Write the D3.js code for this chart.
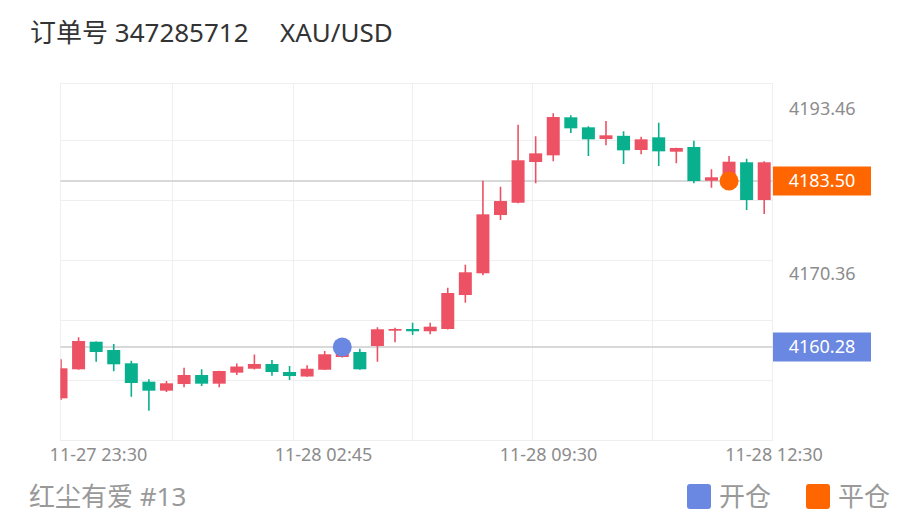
<!DOCTYPE html>
<html><head><meta charset="utf-8">
<script src="https://cdn.jsdelivr.net/npm/d3@7"></script>
<style>
body{margin:0;background:#fff}
svg{display:block}
text{font-family:"Noto Sans","Noto Sans CJK SC",sans-serif}
</style>
</head><body>
<svg id="chart" width="924" height="528"></svg>
<script>
// ---- data ----
const openPrices  = [4153.10,4157.16,4161.02,4159.86,4158.00,4155.43,4154.17,4155.10,4156.36,4155.15,4156.69,4157.24,4157.90,4156.78,4156.15,4157.10,4158.88,4159.58,4160.42,4162.56,4162.80,4162.48,4162.80,4167.55,4170.59,4178.74,4180.46,4186.16,4187.09,4192.41,4191.01,4189.37,4189.82,4187.84,4189.61,4187.60,4188.26,4183.54,4183.22,4186.12,4180.84];
const highPrices  = [4158.56,4161.64,4161.05,4160.70,4158.36,4155.76,4155.52,4157.38,4157.16,4156.96,4157.97,4159.23,4158.46,4157.62,4157.73,4159.72,4160.84,4160.04,4163.04,4162.98,4163.68,4163.68,4168.57,4171.79,4183.54,4182.70,4191.38,4189.75,4192.97,4192.69,4191.15,4191.89,4190.45,4189.70,4191.65,4188.16,4189.14,4185.14,4187.00,4186.62,4186.26];
const lowPrices   = [4152.87,4157.10,4158.22,4156.88,4153.33,4151.37,4153.99,4154.64,4154.82,4154.64,4156.36,4157.13,4156.27,4155.66,4156.12,4157.06,4158.80,4157.10,4158.22,4160.94,4161.96,4162.06,4162.73,4166.48,4170.31,4178.04,4180.40,4183.18,4186.26,4190.21,4187.00,4188.49,4185.88,4187.23,4185.60,4185.98,4183.18,4182.56,4182.80,4179.44,4178.88];
const closePrices = [4157.30,4161.12,4159.58,4157.86,4155.24,4154.17,4155.20,4156.36,4155.15,4156.92,4157.55,4157.90,4156.78,4156.22,4157.24,4159.26,4160.50,4157.16,4162.76,4162.80,4162.48,4163.12,4167.83,4170.73,4178.84,4180.70,4186.40,4187.37,4192.45,4190.87,4189.33,4189.89,4187.79,4189.33,4187.65,4188.12,4183.50,4184.02,4186.20,4180.84,4186.12];

const xTickLabels = ["11-27 23:30","11-28 02:45","11-28 09:30","11-28 12:30"];
const xTickIndex  = [2.13, 14.93, 27.73, 40.56];
const yTickValues = [4193.46, 4170.36];
const yGridValues = [4189.235, 4180.842, 4172.449, 4164.056, 4155.663];
const xGridIndex  = [6.34, 13.17, 19.99, 26.82, 33.64, 40.47];
const yDomain = [4147.27, 4197.21];
const xDomain = [-0.03, 40.47];

const openTrade  = {index: 16, price: 4160.28, label: "4160.28"};
const closeTrade = {index: 38, price: 4183.50, label: "4183.50"};

const titleText = "订单号 347285712";
const symbolText = "XAU/USD";
const footerText = "红尘有爱 #13";
const legendItems = ["开仓", "平仓"];

// ---- styles ----
const UP = "#ec5264", DOWN = "#08b08e";
const BLUE = "#6a87e1", ORANGE = "#ff6600";
const GRID = "#efefef", LABEL = "#8c8c8c";

const svg = d3.select("#chart");
svg.append("rect").attr("width",924).attr("height",528).attr("fill","#fff");

const x = d3.scaleLinear().domain([0, openPrices.length - 1]).range([61, 764.2]);
const y = d3.scaleLinear().domain(yDomain).range([440, 83]);

const pLeft = x(xDomain[0]), pRight = x(xDomain[1]);
const pTop = y(yDomain[1]), pBottom = y(yDomain[0]);

// grid
const g = svg.append("g");
g.selectAll(".hg").data(yGridValues).join("line")
  .attr("x1", pLeft).attr("x2", pRight)
  .attr("y1", d => Math.round(y(d)) + 0.5).attr("y2", d => Math.round(y(d)) + 0.5)
  .attr("stroke", GRID).attr("stroke-width", 1);
g.selectAll(".vg").data(xGridIndex).join("line")
  .attr("x1", d => Math.round(x(d)) + 0.5).attr("x2", d => Math.round(x(d)) + 0.5)
  .attr("y1", pTop).attr("y2", pBottom)
  .attr("stroke", GRID).attr("stroke-width", 1);
g.append("rect").attr("x", Math.round(pLeft) + 0.5).attr("y", Math.round(pTop) + 0.5)
  .attr("width", Math.round(pRight) - Math.round(pLeft)).attr("height", Math.round(pBottom) - Math.round(pTop))
  .attr("fill", "none").attr("stroke", GRID);

// price lines
[openTrade, closeTrade].forEach(t => {
  svg.append("line").attr("x1", pLeft).attr("x2", pRight)
    .attr("y1", y(t.price)).attr("y2", y(t.price))
    .attr("stroke", "#d9d9d9").attr("stroke-width", 2);
});

// clip
svg.append("clipPath").attr("id", "plotclip").append("rect")
  .attr("x", pLeft).attr("y", pTop).attr("width", pRight - pLeft).attr("height", pBottom - pTop);

const candles = d3.range(openPrices.length).map(i => ({
  i, o: openPrices[i], h: highPrices[i], l: lowPrices[i], c: closePrices[i]
}));
const bodyW = 13;
const cg = svg.append("g").attr("clip-path", "url(#plotclip)");
const cs = cg.selectAll("g.c").data(candles).join("g");
cs.append("line")
  .attr("x1", d => x(d.i)).attr("x2", d => x(d.i))
  .attr("y1", d => y(d.h)).attr("y2", d => y(d.l))
  .attr("stroke", d => d.c >= d.o ? UP : DOWN).attr("stroke-width", 1.6);
cs.append("rect")
  .attr("x", d => x(d.i) - bodyW / 2).attr("width", bodyW)
  .attr("y", d => y(Math.max(d.o, d.c)))
  .attr("height", d => Math.max(1.6, Math.abs(y(d.o) - y(d.c))))
  .attr("fill", d => d.c >= d.o ? UP : DOWN);

// trade markers
svg.append("circle").attr("cx", x(openTrade.index)).attr("cy", y(openTrade.price)).attr("r", 9.5).attr("fill", BLUE);
svg.append("circle").attr("cx", x(closeTrade.index)).attr("cy", y(closeTrade.price)).attr("r", 9.5).attr("fill", ORANGE);

// y tick labels
svg.selectAll(".yt").data(yTickValues).join("text")
  .attr("x", 789).attr("y", d => y(d) - 1).attr("dy", "0.35em")
  .attr("font-size", 18).attr("fill", LABEL).text(d => d.toFixed(2));

// price label boxes
[[openTrade, BLUE], [closeTrade, ORANGE]].forEach(([t, col]) => {
  svg.append("rect").attr("x", 773).attr("y", y(t.price) - 14.5).attr("width", 98).attr("height", 29).attr("fill", col);
  svg.append("text").attr("x", 822).attr("y", y(t.price)).attr("dy", "0.35em")
    .attr("text-anchor", "middle").attr("font-size", 18).attr("fill", "#fff").text(t.label);
});

// x tick labels
svg.selectAll(".xt").data(xTickLabels).join("text")
  .attr("x", (d, i) => x(xTickIndex[i])).attr("y", 461)
  .attr("text-anchor", "middle").attr("font-size", 18).attr("fill", LABEL).text(d => d);

// title
svg.append("text").attr("x", 30).attr("y", 42).attr("font-size", 26).attr("fill", "#333").text(titleText);
svg.append("text").attr("x", 280).attr("y", 42).attr("font-size", 26).attr("fill", "#333").text(symbolText);

// footer
svg.append("text").attr("x", 29).attr("y", 506).attr("font-size", 26).attr("fill", "#999").text(footerText);

// legend
const legendColors = [BLUE, ORANGE];
const legendX = [687, 806];
legendItems.forEach((t, i) => {
  svg.append("rect").attr("x", legendX[i]).attr("y", 484).attr("width", 24).attr("height", 25).attr("rx", 3).attr("fill", legendColors[i]);
  svg.append("text").attr("x", legendX[i] + 32).attr("y", 506).attr("font-size", 26).attr("fill", "#999").text(t);
});
</script>
</body></html>
